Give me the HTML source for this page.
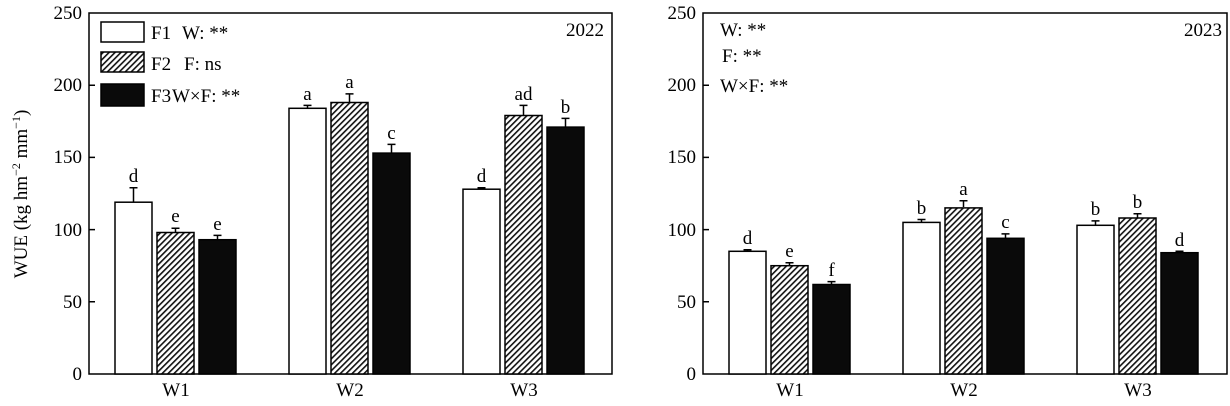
<!DOCTYPE html>
<html><head><meta charset="utf-8"><style>
html,body{margin:0;padding:0;background:#fff;}
svg{display:block;font-family:"Liberation Serif",serif;}
</style></head><body>
<svg width="1230" height="406" viewBox="0 0 1230 406" xmlns="http://www.w3.org/2000/svg">
<defs>
<pattern id="h" patternUnits="userSpaceOnUse" width="4.2" height="4.2" patternTransform="rotate(45)">
<rect width="4.2" height="4.2" fill="#fff"/><rect x="0" y="0" width="1.6" height="4.2" fill="#111"/>
</pattern>
</defs>
<g fill="#000" font-size="19" text-anchor="end">
<text x="82" y="19">250</text><text x="82" y="91">200</text><text x="82" y="163">150</text>
<text x="82" y="236">100</text><text x="82" y="308">50</text><text x="82" y="380">0</text>
<text x="696" y="19">250</text><text x="696" y="91">200</text><text x="696" y="163">150</text>
<text x="696" y="236">100</text><text x="696" y="308">50</text><text x="696" y="380">0</text>
</g>
<text transform="translate(27,194) rotate(-90)" font-size="19" text-anchor="middle">WUE (kg hm<tspan dy="-7" font-size="12">−2</tspan><tspan dy="7"> mm</tspan><tspan dy="-7" font-size="12">−1</tspan><tspan dy="7">)</tspan></text>
<g fill="none" stroke="#000" stroke-width="1.5">
<rect x="89" y="13" width="523" height="361"/>
<rect x="703" y="13" width="524" height="361"/>
<path d="M89 85.2h6M89 157.4h6M89 229.6h6M89 301.8h6M703 85.2h6M703 157.4h6M703 229.6h6M703 301.8h6"/>
</g>
<g font-size="19" text-anchor="middle">
<text x="176" y="396">W1</text><text x="350" y="396">W2</text><text x="524" y="396">W3</text>
<text x="790" y="396">W1</text><text x="964" y="396">W2</text><text x="1138" y="396">W3</text>
</g>
<g stroke="#000" stroke-width="1.5">
<rect x="101" y="22" width="43" height="20" fill="#fff"/>
<rect x="101" y="52" width="43" height="20" fill="url(#h)"/>
<rect x="101" y="84" width="43" height="22" fill="#0a0a0a"/>
</g>
<g font-size="19">
<text x="151" y="39">F1</text><text x="182" y="39">W: **</text>
<text x="151" y="70">F2</text><text x="184" y="70">F: ns</text>
<text x="151" y="102">F3</text><text x="172" y="102">W×F: **</text>
<text x="604" y="36" text-anchor="end">2022</text>
<text x="720" y="36">W: **</text><text x="722" y="62">F: **</text><text x="720" y="92">W×F: **</text>
<text x="1222" y="36" text-anchor="end">2023</text>
</g>
<g stroke="#000" stroke-width="1.5">
<rect x="115" y="202.2" width="37" height="171.8" fill="#fff"/>
<rect x="157" y="232.5" width="37" height="141.5" fill="url(#h)"/>
<rect x="199" y="239.7" width="37" height="134.3" fill="#0a0a0a"/>
<rect x="289" y="108.3" width="37" height="265.7" fill="#fff"/>
<rect x="331" y="102.5" width="37" height="271.5" fill="url(#h)"/>
<rect x="373" y="153.1" width="37" height="220.9" fill="#0a0a0a"/>
<rect x="463" y="189.2" width="37" height="184.8" fill="#fff"/>
<rect x="505" y="115.5" width="37" height="258.5" fill="url(#h)"/>
<rect x="547" y="127.1" width="37" height="246.9" fill="#0a0a0a"/>
<rect x="729" y="251.3" width="37" height="122.7" fill="#fff"/>
<rect x="771" y="265.7" width="37" height="108.3" fill="url(#h)"/>
<rect x="813" y="284.5" width="37" height="89.5" fill="#0a0a0a"/>
<rect x="903" y="222.4" width="37" height="151.6" fill="#fff"/>
<rect x="945" y="207.9" width="37" height="166.1" fill="url(#h)"/>
<rect x="987" y="238.3" width="37" height="135.7" fill="#0a0a0a"/>
<rect x="1077" y="225.3" width="37" height="148.7" fill="#fff"/>
<rect x="1119" y="218" width="37" height="156" fill="url(#h)"/>
<rect x="1161" y="252.7" width="37" height="121.3" fill="#0a0a0a"/>
</g>
<g stroke="#000" stroke-width="1.5" fill="none">
<path d="M133.5 202V187.7M129.5 187.7h8 M175.5 232V228.2M171.5 228.2h8 M217.5 239V235.4M213.5 235.4h8"/>
<path d="M307.5 108V105.4M303.5 105.4h8 M349.5 102V93.9M345.5 93.9h8 M391.5 153V144.4M387.5 144.4h8"/>
<path d="M481.5 189V187.7M477.5 187.7h8 M523.5 115V105.4M519.5 105.4h8 M565.5 127V118.4M561.5 118.4h8"/>
<path d="M747.5 251V249.8M743.5 249.8h8 M789.5 265V262.8M785.5 262.8h8 M831.5 284V281.6M827.5 281.6h8"/>
<path d="M921.5 222V219.5M917.5 219.5h8 M963.5 207V200.7M959.5 200.7h8 M1005.5 238V233.9M1001.5 233.9h8"/>
<path d="M1095.5 225V220.9M1091.5 220.9h8 M1137.5 218V213.7M1133.5 213.7h8 M1179.5 252V251.3M1175.5 251.3h8"/>
</g>
<g font-size="19" text-anchor="middle">
<text x="133.5" y="182">d</text><text x="175.5" y="222">e</text><text x="217.5" y="230">e</text>
<text x="307.5" y="100">a</text><text x="349.5" y="88">a</text><text x="391.5" y="139">c</text>
<text x="481.5" y="182">d</text><text x="523.5" y="100">ad</text><text x="565.5" y="113">b</text>
<text x="747.5" y="244">d</text><text x="789.5" y="257">e</text><text x="831.5" y="276">f</text>
<text x="921.5" y="214">b</text><text x="963.5" y="195">a</text><text x="1005.5" y="228">c</text>
<text x="1095.5" y="215">b</text><text x="1137.5" y="208">b</text><text x="1179.5" y="246">d</text>
</g>
</svg>
</body></html>
